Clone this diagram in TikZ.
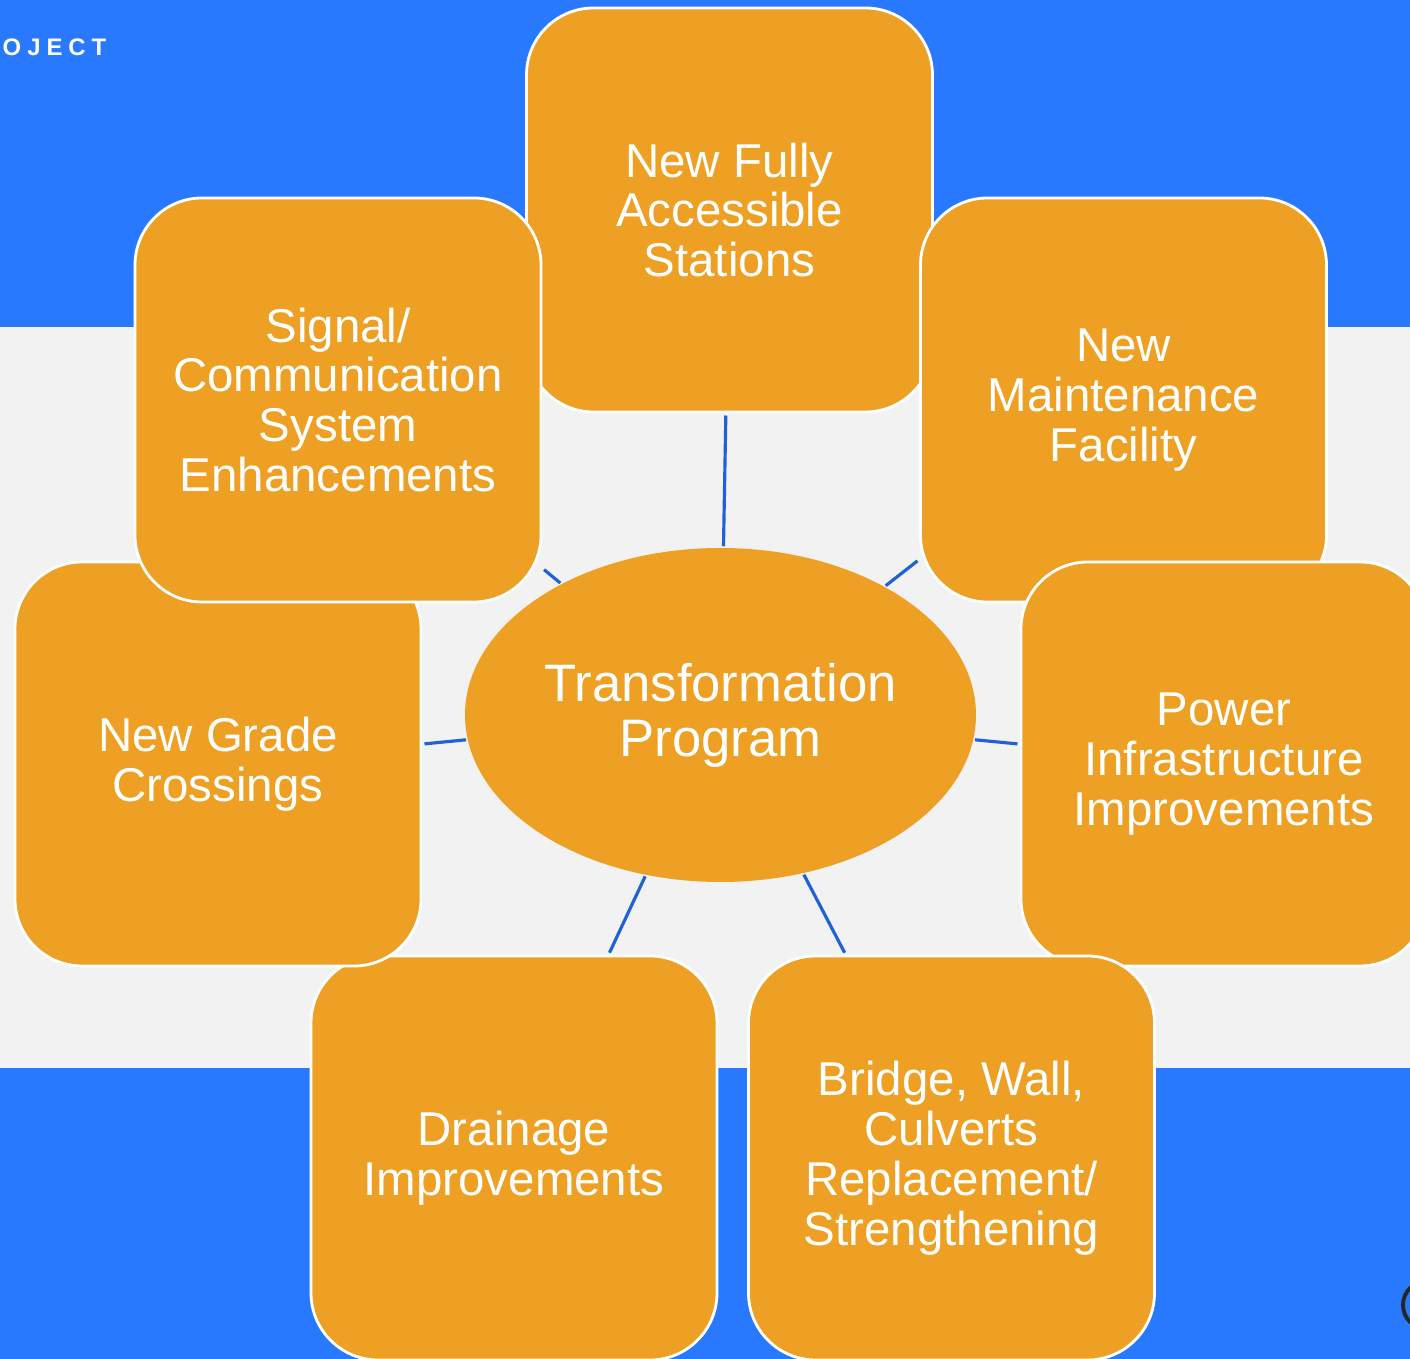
\documentclass[tikz,border=0pt]{standalone}
\usepackage{fontspec}
\setmainfont{Liberation Sans}
\usetikzlibrary{shapes.geometric}

\definecolor{bandblue}{HTML}{2979FF}
\definecolor{midgray}{HTML}{F2F2F2}
\definecolor{boxorange}{HTML}{EDA023}
\definecolor{linkblue}{HTML}{1E62D6}

\begin{document}
\begin{tikzpicture}[
    item/.style = {rectangle, rounded corners=0.67cm, fill=boxorange, draw=white,
      line width=0.8pt, minimum width=4.06cm, minimum height=4.04cm, inner sep=0pt,
      align=center, text=white, font=\fontsize{13.5}{14.2}\selectfont},
    hub/.style = {ellipse, fill=boxorange, minimum width=5.11cm, minimum height=3.34cm,
      inner sep=0pt, align=center, text=white, font=\fontsize{15}{15.6}\selectfont},
    link/.style = {draw=linkblue, line width=0.9pt, shorten <=0.3pt, shorten >=0.6pt}]
    \clip (0,0) rectangle (14.1,13.59);
    \fill [bandblue] (0,0) rectangle (14.1,13.59);
    \fill [midgray] (0,2.91) rectangle (14.1,10.32);
    \node (title) [anchor=west, inner sep=0pt, text=white,
      font=\bfseries\fontsize{6.8}{8}\selectfont\addfontfeature{LetterSpace=25}]
      at (0.02,13.115) {OJECT};
    \draw [black!85, line width=1.1pt] (14.27,0.54) circle (0.24);

    \node (prog) [hub] at (7.205,6.44) {Transformation\\Program};

    \node (stations) [item] at (7.295,11.49) {New Fully\\Accessible\\Stations};
    \node (maint) [item] at (11.235,9.59) {New\\Maintenance\\Facility};
    \node (power) [item] at (12.24,5.95) {Power\\Infrastructure\\Improvements};
    \node (bridge) [item] at (9.515,2.01) {Bridge, Wall,\\Culverts\\Replacement/\\Strengthening};
    \node (drain) [item] at (5.14,2.01) {Drainage\\Improvements};
    \node (grade) [item] at (2.18,5.95) {New Grade\\Crossings};
    \node (signal) [item] at (3.38,9.59) {Signal/\\Communication\\System\\Enhancements};

    \path [link]
      (prog) edge (stations)
      (prog) edge (maint)
      (prog) edge (power)
      (prog) edge (bridge)
      (prog) edge (drain)
      (prog) edge (grade)
      (prog) edge (signal);
\end{tikzpicture}
\end{document}
